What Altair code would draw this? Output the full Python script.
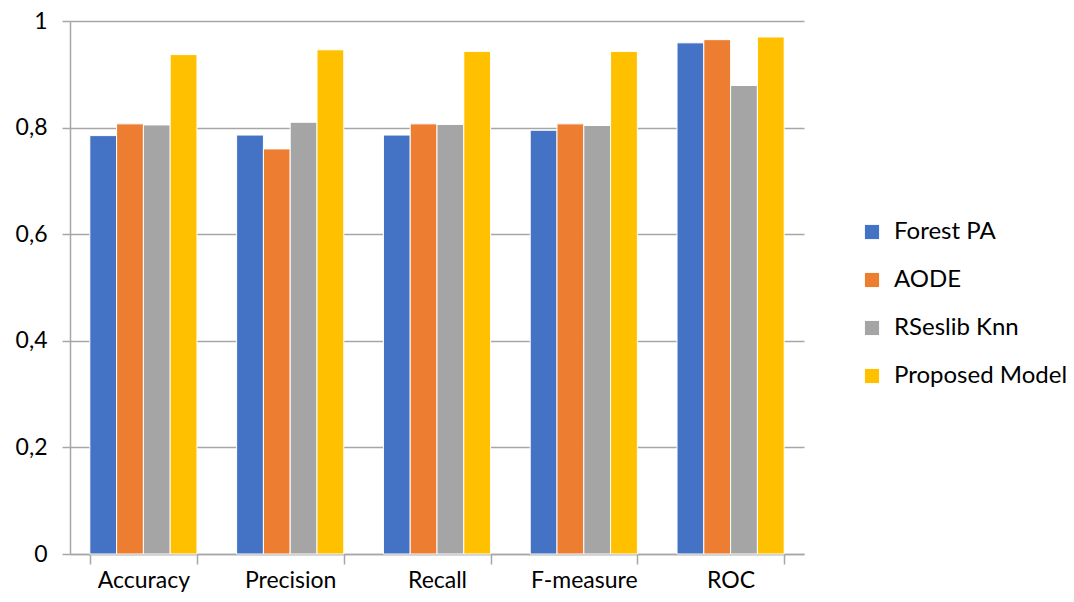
import altair as alt
import pandas as pd

metrics = ["Accuracy", "Precision", "Recall", "F-measure", "ROC"]
models = ["Forest PA", "AODE", "RSeslib Knn", "Proposed Model"]
forest_pa = [0.785, 0.786, 0.786, 0.795, 0.959]
aode = [0.807, 0.760, 0.807, 0.807, 0.965]
rseslib = [0.805, 0.810, 0.806, 0.804, 0.879]
proposed = [0.937, 0.946, 0.943, 0.943, 0.970]
colors = ["#4472C4", "#ED7D31", "#A5A5A5", "#FFC000"]

rows = []
for model, vals in zip(models, [forest_pa, aode, rseslib, proposed]):
    for m, v in zip(metrics, vals):
        rows.append({"metric": m, "model": model, "value": v})
df = pd.DataFrame(rows)

FONT = "Lato"
FS = 24
GRID = "#A6A6A6"

chart = alt.Chart(df).mark_bar(stroke="white", strokeWidth=1).encode(
    x=alt.X("metric:N", sort=metrics, title=None,
            scale=alt.Scale(paddingInner=0.27, paddingOuter=0.135),
            axis=alt.Axis(labelAngle=0, labelFontSize=23, labelFont=FONT, labelColor="#000000",
                          tickBand="extent", tickSize=10, tickColor=GRID, tickWidth=1.5,
                          domainColor=GRID, domainWidth=1.5, labelPadding=5, grid=False)),
    xOffset=alt.XOffset("model:N", sort=models),
    y=alt.Y("value:Q", title=None,
            scale=alt.Scale(domain=[0, 1]),
            axis=alt.Axis(values=[0, 0.2, 0.4, 0.6, 0.8, 1.0],
                          labelExpr="replace(format(datum.value, '.1~f'), '.', ',')",
                          labelFontSize=23, labelFont=FONT, labelColor="#000000",
                          tickSize=8, tickColor=GRID, tickWidth=1.5,
                          domainColor=GRID, domainWidth=1.5, labelPadding=15,
                          gridColor=GRID, gridWidth=1.5)),
    color=alt.Color("model:N", sort=models, title=None,
                    scale=alt.Scale(domain=models, range=colors),
                    legend=alt.Legend(orient="none", legendX=790, legendY=199,
                                      labelFontSize=FS, labelFont=FONT, labelColor="#000000",
                                      labelLimit=400,
                                      symbolType="square", symbolSize=200, symbolStrokeWidth=0,
                                      rowPadding=24, labelOffset=10, padding=0)),
).properties(
    width=734, height=533,
    autosize=alt.AutoSizeParams(type="none"),
    padding={"left": 62, "top": 13, "right": 262, "bottom": 40},
).configure_view(stroke=None)

chart.save("out.html", embed_options={"renderer": "svg", "actions": False})
